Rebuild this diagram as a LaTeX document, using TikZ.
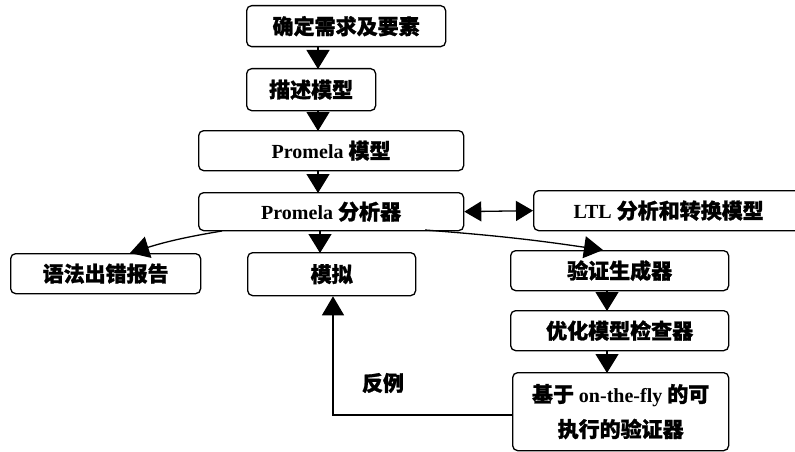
\documentclass[tikz,border=0pt]{standalone}
\usepackage{fontspec}
\setmainfont{Liberation Serif}
\newfontfamily\cjk{Noto Sans CJK SC}[FakeBold=1.2,Scale=1.05]
\usetikzlibrary{arrows.meta}
\tikzset{
  lbfont/.style={font=\fontsize{20}{24}\selectfont\bfseries},
  box/.style={draw, line width=1.3pt, rounded corners=5pt, inner sep=0pt, anchor=north west, lbfont},
  arr/.style={line width=1.3pt, -{Triangle[length=19pt,width=22pt]}},
  tri/.style={line width=1.3pt, -{Triangle[length=19pt,width=23pt]}, shorten >=-1pt},
}
\begin{document}
\begin{tikzpicture}[x=1pt,y=-1pt]
\useasboundingbox (0,0) rectangle (795,452);
\node[box, minimum width=199pt, minimum height=41pt] (a) at (246,5) {\cjk 确定需求及要素};
\node[box, minimum width=129pt, minimum height=42pt] (b) at (246,68) {\cjk 描述模型};
\node[box, minimum width=265pt, minimum height=40pt] (c) at (198,130) {Promela {\cjk 模型}};
\node[box, minimum width=265pt, minimum height=38pt] (d) at (198,192) {Promela {\cjk 分析器}};
\node[box, minimum width=270pt, minimum height=40pt] (e) at (533,190) {LTL {\cjk 分析和转换模型}};
\node[box, minimum width=190pt, minimum height=40pt] (f) at (10,253) {\cjk 语法出错报告};
\node[box, minimum width=168pt, minimum height=43pt] (g) at (247,252) {\cjk 模拟};
\node[box, minimum width=218pt, minimum height=40pt] (h) at (510,250) {\cjk 验证生成器};
\node[box, minimum width=218pt, minimum height=40pt] (i) at (510,310) {\cjk 优化模型检查器};
\node[box, minimum width=216pt, minimum height=78pt, align=center] (j) at (512,372) {{\cjk 基于} on-the-fly {\cjk 的可}\\[11pt]{\cjk 执行的验证器}};
\coordinate (xl) at (318,0);
\coordinate (xm) at (320,0);
\coordinate (xr) at (607,0);
\coordinate (xf) at (130,0);
\coordinate (xh) at (603,0);
\coordinate (xk) at (333,0);
\draw[tri] (a.south -| xl) -- (b.north -| xl);
\draw[tri] (b.south -| xl) -- (c.north -| xl);
\draw[tri] (c.south -| xl) -- (d.north -| xl);
\draw[tri] (d.south -| xm) -- (g.north -| xm);
\draw[tri] (h.south -| xr) -- (i.north -| xr);
\draw[tri] (i.south -| xr) -- (j.north -| xr);
\draw[line width=1.3pt, {Triangle[length=17pt,width=20pt]}-{Triangle[length=17pt,width=20pt]}] (d.east) -- (e.west);
\coordinate (dl) at (222,231);
\coordinate (dr) at (425,230);
\draw[arr] (dl) to[bend right=4] (f.north -| xf);
\draw[arr] (dr) to[bend left=2] (h.north -| xh);
\coordinate (k) at (333,415);
\draw[arr] (j.west |- k) -- (k) -- (g.south -| xk);
\node[lbfont] (lbl) at (383,383) {\cjk 反例};
\end{tikzpicture}
\end{document}
